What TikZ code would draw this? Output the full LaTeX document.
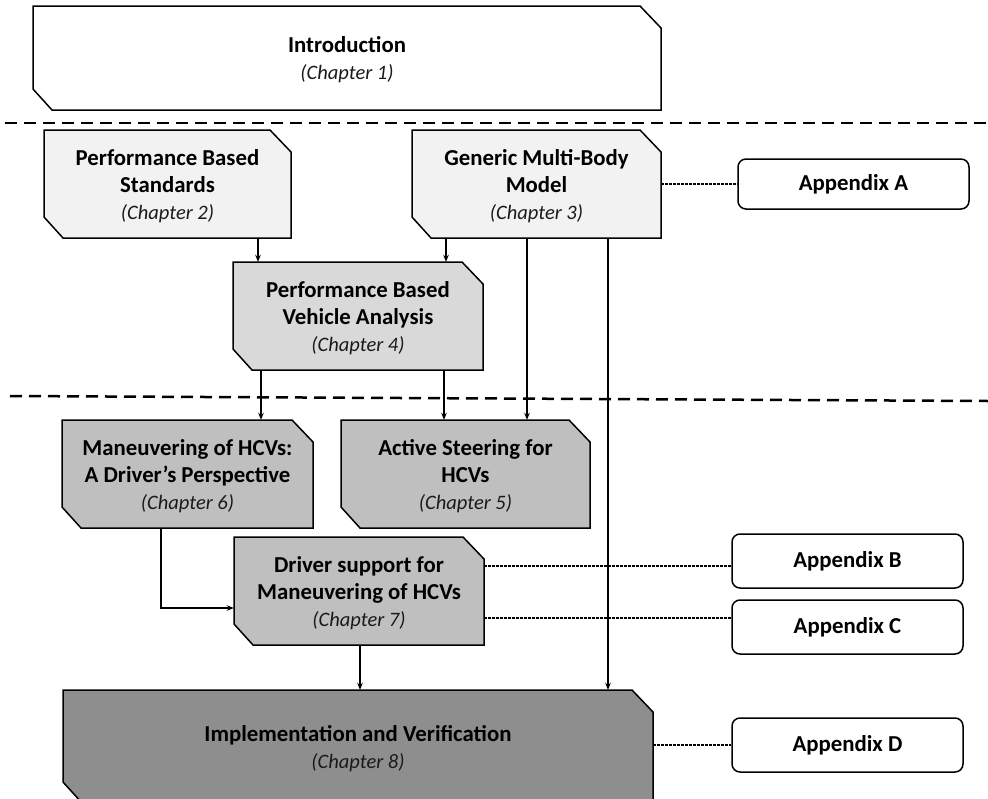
\documentclass[tikz,border=0pt]{standalone}
\usepackage{fontspec}
\setmainfont{Carlito}
\usetikzlibrary{arrows.meta}
\definecolor{fillA}{HTML}{F2F2F2}
\definecolor{fillB}{HTML}{D9D9D9}
\definecolor{fillC}{HTML}{BFBFBF}
\definecolor{fillD}{HTML}{8E8E8E}
\definecolor{chapcol}{HTML}{1A1A1A}
\tikzset{
  boxline/.style={line width=1.5pt, draw=black, line join=miter},
  textnode/.style={shape=rectangle, inner sep=0pt, align=center, font=\fontsize{22.8}{27}\selectfont},
  apbox/.style={draw, line width=1.5pt, rounded corners=8pt, fill=white, minimum width=231pt, inner sep=0pt,
     font=\fontsize{22.8}{27}\selectfont\bfseries},
  arr/.style={line width=1.2pt, -{Stealth[length=7pt,width=5.5pt]}},
  dotline/.style={line width=2.4pt, dash pattern=on 2.4pt off 1.6pt},
  sepline/.style={line width=2.5pt, dash pattern=on 12pt off 7pt},
}
\newcommand\ttl[1]{{\bfseries #1}}
\newcommand\chp[1]{{\fontsize{20.5}{27}\selectfont\itshape\color{chapcol}#1}}
% name, x1, y1, x2, y2, fill, text
\newcommand\chbox[7]{%
  \draw[boxline, fill=#6] (#2,#3) -- ({#4-21},#3) -- (#4,{#3+22}) -- (#4,#5) -- ({#2+19},#5) -- (#2,{#5-21}) -- cycle;
  \node[textnode, minimum width={#4-#2}, minimum height={#5-#3}] (#1) at ({(#2+#4)/2},{(#3+#5)/2}) {};
  \node[textnode, anchor=center] at ({(#2+#4)/2},{(#3+#5)/2+2}) {#7};
}
\begin{document}
\begin{tikzpicture}[x=1pt,y=-1pt]
\useasboundingbox (0,0) rectangle (988,798);
\clip (0,0) rectangle (988,798);
\fill[white] (0,0) rectangle (988,798);

% separators
\draw[sepline] (5,123) -- (988,123);
\draw[sepline] (10,396) -- (988,401);

% chapter boxes
\chbox{b1}{33}{6}{661}{110}{white}{\ttl{Introduction}\\\chp{(Chapter 1)}}
\chbox{b2}{44}{130}{291}{238}{fillA}{\ttl{Performance Based}\\\ttl{Standards}\\\chp{(Chapter 2)}}
\chbox{b3}{412}{130}{661}{238}{fillA}{\ttl{Generic Multi-Body}\\\ttl{Model}\\\chp{(Chapter 3)}}
\chbox{b4}{233}{262}{483}{370}{fillB}{\ttl{Performance Based}\\\ttl{Vehicle Analysis}\\\chp{(Chapter 4)}}
\chbox{b6}{62}{420}{313}{528}{fillC}{\ttl{Maneuvering of HCVs:}\\\ttl{A Driver’s Perspective}\\\chp{(Chapter 6)}}
\chbox{b5}{341}{420}{590}{528}{fillC}{\ttl{Active Steering for}\\\ttl{HCVs}\\\chp{(Chapter 5)}}
\chbox{b7}{234}{537}{484}{645}{fillC}{\ttl{Driver support for}\\\ttl{Maneuvering of HCVs}\\\chp{(Chapter 7)}}
\chbox{b8}{63}{690}{653}{803}{fillD}{\ttl{Implementation and Verification}\\\chp{(Chapter 8)}}

% appendices
\node[apbox, minimum height=50pt] (aA) at (853.5,184) {Appendix A};
\node[apbox, minimum height=54pt] (aB) at (847.5,561) {Appendix B};
\node[apbox, minimum height=54pt] (aC) at (847.5,627) {Appendix C};
\node[apbox, minimum height=54pt] (aD) at (847.5,745) {Appendix D};

% arrows
\draw[arr] (258,0 |- b2.south) -- (258,0 |- b4.north);
\draw[arr] (446,0 |- b3.south) -- (446,0 |- b4.north);
\draw[arr] (527,0 |- b3.south) -- (527,0 |- b5.north);
\draw[arr] (608,0 |- b3.south) -- (608,0 |- b8.north);
\draw[arr] (261,0 |- b4.south) -- (261,0 |- b6.north);
\draw[arr] (444,0 |- b4.south) -- (444,0 |- b5.north);
\draw[arr] (161,0 |- b6.south) |- (b7.west |- 0,608);
\draw[arr] (360,0 |- b7.south) -- (360,0 |- b8.north);

% dotted links
\draw[dotline] (b3.east |- aA.west) -- (aA.west);
\draw[dotline] (b7.east |- 0,566) -- (aB.west |- 0,566);
\draw[dotline] (b7.east |- 0,618) -- (aC.west |- 0,618);
\draw[dotline] (b8.east |- aD.west) -- (aD.west);
\end{tikzpicture}
\end{document}
